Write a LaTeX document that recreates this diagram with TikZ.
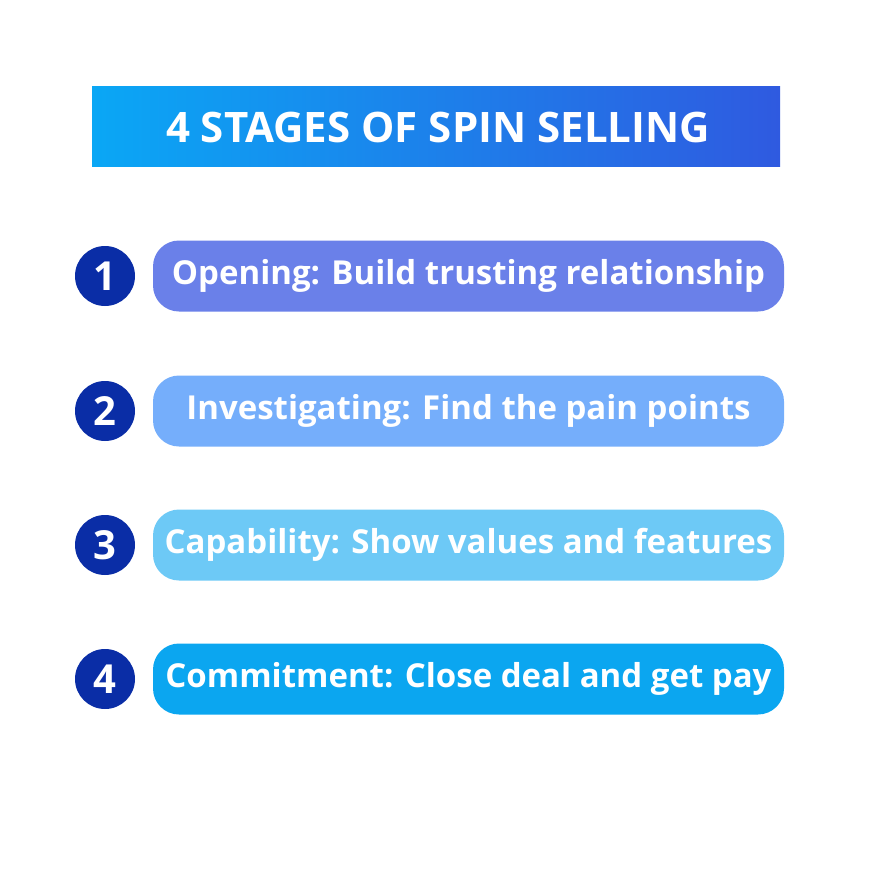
\documentclass[tikz,border=0pt]{standalone}
\usepackage{fontspec}
\setmainfont{Open Sans}
\definecolor{gl}{HTML}{0AA7F5}
\definecolor{gr}{HTML}{2F5AE0}
\definecolor{cn}{HTML}{0A2DA6}
\definecolor{p1}{HTML}{6A80E9}
\definecolor{p2}{HTML}{75AEFB}
\definecolor{p3}{HTML}{6DC9F6}
\definecolor{p4}{HTML}{0BA6F0}
\begin{document}
\begin{tikzpicture}[x=1pt,y=-1pt,
 num/.style={circle,fill=cn,minimum size=60pt,inner sep=0pt,text=white,font=\fontsize{40}{40}\selectfont\bfseries},
 pill/.style={rounded corners=26pt,minimum width=631pt,minimum height=71pt,text=white,font=\fontsize{33}{36}\selectfont\bfseries,inner sep=0pt}]
\useasboundingbox (0,0) rectangle (872,872);
\shade[left color=gl,right color=gr] (92,87) rectangle (780,166);
\node[text=white,font=\fontsize{42}{44}\selectfont\bfseries] (t) at (438,127) {4 STAGES OF SPIN SELLING};
\foreach \i/\y/\c/\txt in {1/276/p1/{Opening: Build trusting relationship},2/411/p2/{Investigating: Find the pain points},3/545/p3/{Capability: Show values and features},4/679/p4/{Commitment: Close deal and get pay}}{
 \node[num] (n\i) at (105,\y) {\i};
 \node[pill,fill=\c] (s\i) at (468.5,\y) {\txt};
}
\end{tikzpicture}
\end{document}
